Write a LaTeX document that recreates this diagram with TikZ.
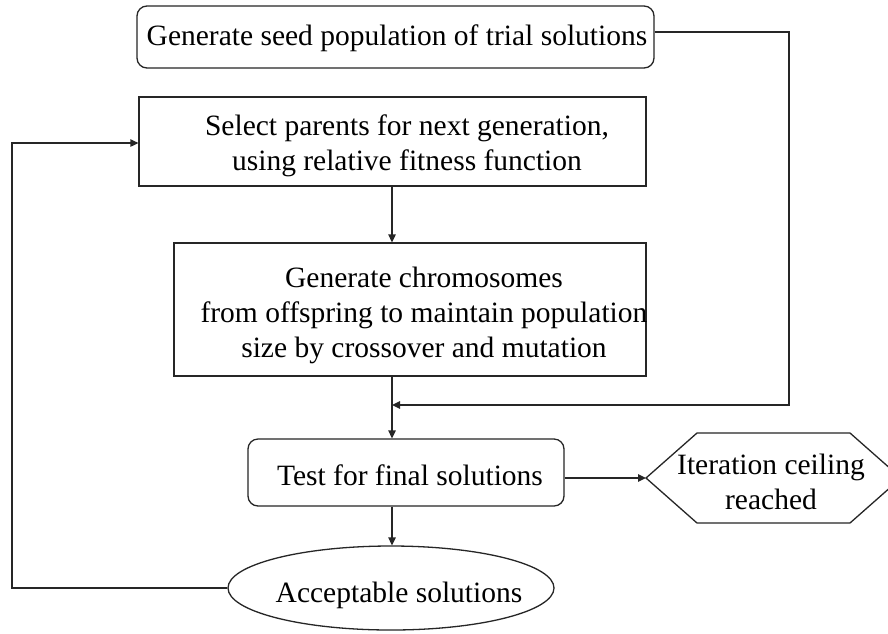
\documentclass[tikz,border=0pt]{standalone}
\usepackage{fontspec}
\setmainfont{Liberation Serif}
\usetikzlibrary{arrows.meta,shapes.geometric,calc}
\begin{document}
\begin{tikzpicture}[x=1pt,y=-1pt,
  ln/.style={line width=1.3pt, draw=black!85},
  arr/.style={ln,-{Triangle[length=8pt,width=7.5pt]}},
  box/.style={ln, rectangle, inner sep=0pt},
  rbox/.style={box, rounded corners=10pt},
  txt/.style={align=center, inner sep=0pt},
  font=\fontsize{29.5}{35}\selectfont]
\fill[white] (0,0) rectangle (888,633);
\useasboundingbox (0,0) rectangle (888,633);

\node[rbox, minimum width=517pt, minimum height=62pt] (seed) at (395.5,37) {};
\node[txt] (tseed) at (397,38) {Generate seed population of trial solutions};

\node[box, minimum width=507pt, minimum height=89pt] (sel) at (392.5,141.5) {};
\node[txt] (tsel) at (407,146) {Select parents for next generation,\\using relative fitness function};

\node[box, minimum width=472pt, minimum height=133pt] (gen) at (410,309.5) {};
\node[txt] (tgen) at (424,315) {Generate chromosomes\\from offspring to maintain population\\size by crossover and mutation};

\node[rbox, minimum width=316pt, minimum height=67pt] (test) at (406,472.5) {};
\node[txt] (ttest) at (410,475) {Test for final solutions};

\draw[ln] (646,478) -- (697,433) -- (850,433) -- (901,478) -- (850,523) -- (697,523) -- cycle;
\coordinate (hexw) at (646,478);
\node[txt] (thex) at (771,482) {Iteration ceiling\\reached};

\node[ln, ellipse, minimum width=326pt, minimum height=84pt, inner sep=0pt] (acc) at (391,588) {};
\node[txt] (tacc) at (399,595) {Acceptable solutions};

\coordinate (m) at (392,405);
\coordinate (rc) at (789,405);
\coordinate (lc) at (12,143);

\draw[arr] ([yshift=5pt]seed.east) -| (rc) -- (m);
\draw[arr] (sel.south -| m) -- (gen.north -| m);
\draw[ln] (gen.south -| m) -- (m);
\draw[arr] (m) -- (test.north -| m);
\draw[arr] (test.south -| m) -- (acc.north -| m);
\draw[arr] (test.east |- hexw) -- (hexw);
\draw[arr] (acc.west) -| (lc) -- (lc -| sel.west);
\end{tikzpicture}
\end{document}
